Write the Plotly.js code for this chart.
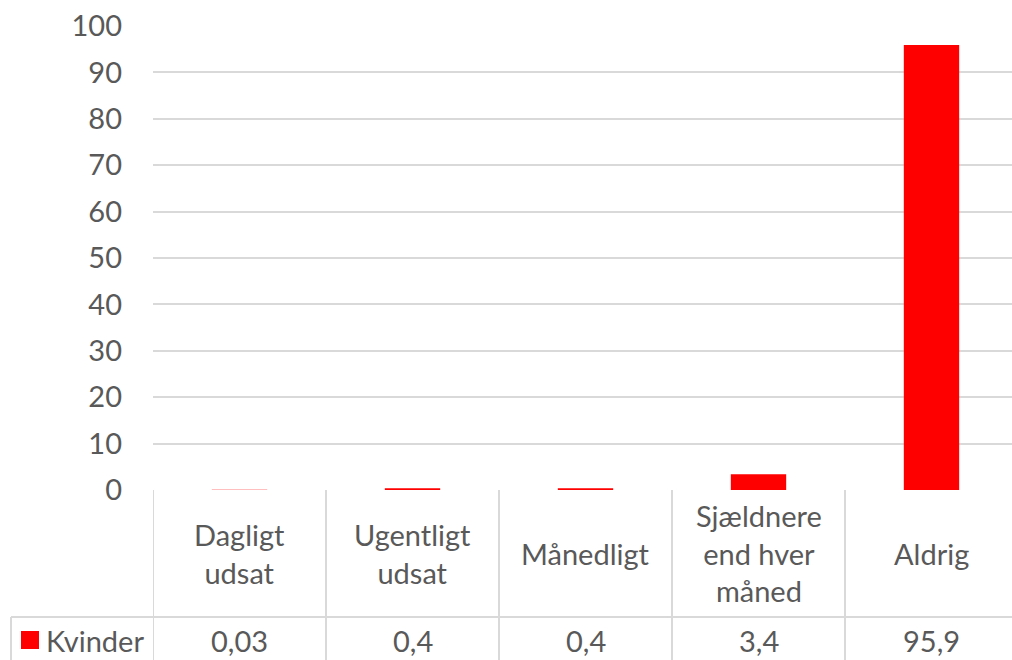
<!DOCTYPE html>
<html><head><meta charset="utf-8">
<script src="https://cdn.plot.ly/plotly-3.0.1.min.js"></script>
<style>body{margin:0;padding:0;background:#fff}#c{width:1012px;height:660px}</style>
</head><body><div id="c"></div>
<script>
const categories = ["Dagligt<br>udsat", "Ugentligt<br>udsat", "Månedligt", "Sjældnere<br>end hver<br>måned", "Aldrig"];
const seriesName = "Kvinder";
const values = [0.03, 0.4, 0.4, 3.4, 95.9];
const valueLabels = ["0,03", "0,4", "0,4", "3,4", "95,9"];
const yTicks = [0, 10, 20, 30, 40, 50, 60, 70, 80, 90, 100];

const W = 1012, H = 660;
const mL = 153, mR = 0, mT = 26, mB = 170;
const plotH = H - mT - mB;
const catW = 173;
const xMax = -0.5 + (W - mL - mR) / catW;
const font = "Lato, 'Open Sans', sans-serif";
const fs = 29;
const txt = "#595959";
const grid = "#d9d9d9";
const py = p => -(p - (H - mB)) / plotH; // pixel y -> paper y
const px = p => (p - mL) / (W - mL - mR);

const n = categories.length;
const idx = categories.map((_, i) => i);
const shapes = [];
const line = {color: grid, width: 2};
for (let i = 0; i <= n; i++) {
  shapes.push({type: 'line', xref: 'x', yref: 'paper', x0: i - 0.5, x1: i - 0.5, y0: 0, y1: py(H + 10), line});
}
shapes.push({type: 'line', xref: 'paper', yref: 'paper', x0: px(11), x1: 1.01, y0: py(617), y1: py(617), line});
shapes.push({type: 'line', xref: 'paper', yref: 'paper', x0: px(11), x1: px(11), y0: py(617), y1: py(H + 10), line});
shapes.push({type: 'rect', xref: 'paper', yref: 'paper', x0: px(21), x1: px(39), y0: py(649), y1: py(631), fillcolor: '#ff0000', line: {width: 0}});

const annotations = [];
idx.forEach(i => {
  annotations.push({xref: 'x', yref: 'paper', x: i, y: py(553), text: categories[i], showarrow: false,
    xanchor: 'center', yanchor: 'middle', align: 'center', font: {family: font, size: fs, color: txt}});
  annotations.push({xref: 'x', yref: 'paper', x: i, y: py(640), text: valueLabels[i], showarrow: false,
    xanchor: 'center', yanchor: 'middle', font: {family: font, size: fs, color: txt}});
});
annotations.push({xref: 'paper', yref: 'paper', x: px(44), y: py(640), text: seriesName, showarrow: false,
  xanchor: 'left', yanchor: 'middle', font: {family: font, size: fs, color: txt}});

Plotly.newPlot('c', [{
  type: 'bar', x: idx, y: values, name: seriesName, width: 0.32,
  marker: {color: '#ff0000', line: {width: 0}}, hoverinfo: 'none'
}], {
  width: W, height: H,
  margin: {l: mL, r: mR, t: mT, b: mB, pad: 0},
  paper_bgcolor: '#fff', plot_bgcolor: '#fff',
  showlegend: false,
  font: {family: font, color: txt},
  xaxis: {range: [-0.5, xMax], showticklabels: false, showgrid: false, zeroline: false, showline: false, ticks: '', fixedrange: true},
  yaxis: {range: [0, 100], tickvals: yTicks, ticktext: yTicks.map(String), showgrid: true, gridcolor: grid, gridwidth: 2,
    zeroline: false, showline: false, ticks: '', ticklabelstandoff: 30, tickfont: {family: font, size: fs, color: txt}, fixedrange: true},
  shapes, annotations
}, {displayModeBar: false, staticPlot: true});
</script>
</body></html>
